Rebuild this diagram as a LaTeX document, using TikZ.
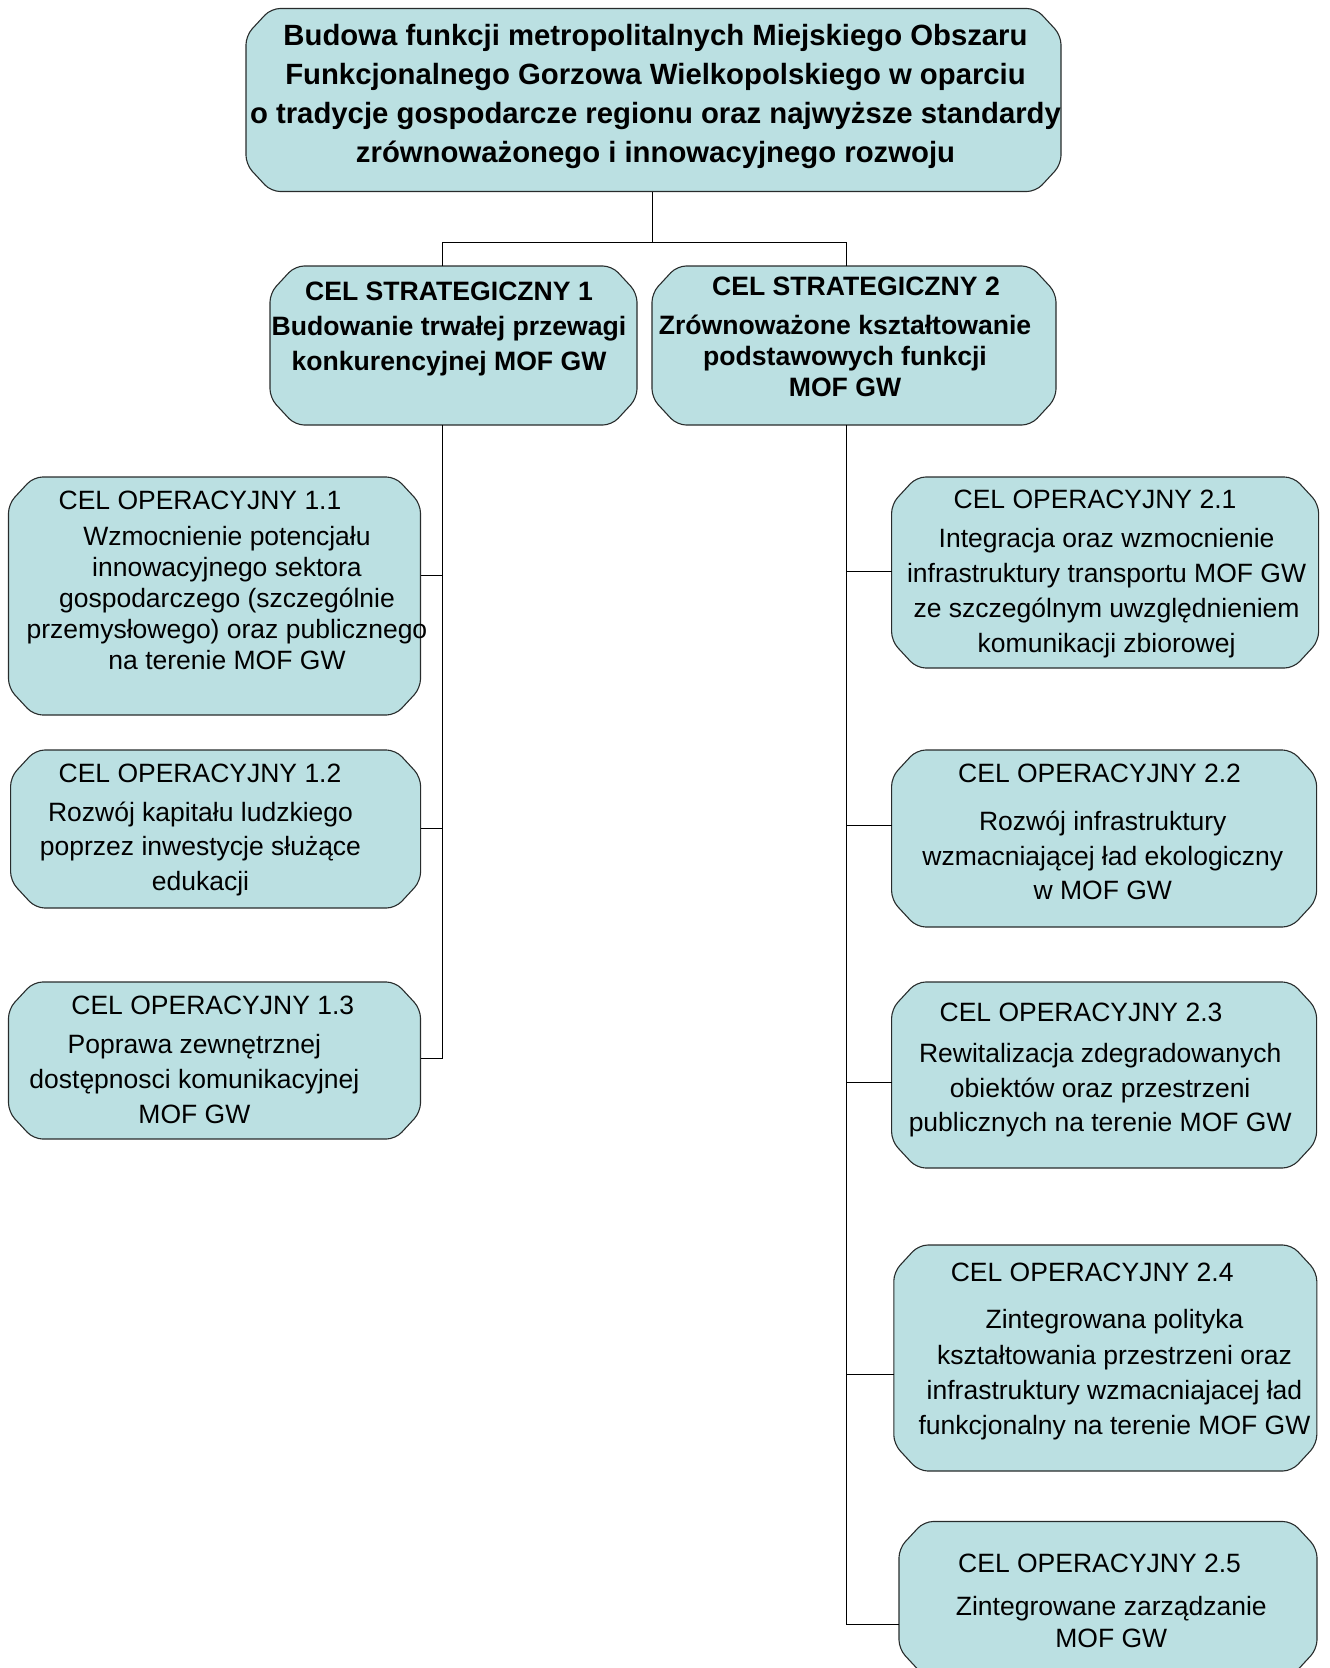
\documentclass[tikz,border=0pt]{standalone}
\usepackage{fontspec}
\setmainfont{Liberation Sans}
\definecolor{boxfill}{RGB}{187,224,226}
\definecolor{boxline}{RGB}{40,44,44}
% box with chamfered corners: name, x1, y1, x2, y2
\newcommand\chbox[5]{%
  \path[boxshape] ({#2+25},#3) -- ({#4-25},#3) -- (#4,{#3+27}) -- (#4,{#5-27})
    -- ({#4-25},#5) -- ({#2+25},#5) -- (#2,{#5-27}) -- (#2,{#3+27}) -- cycle;
  \node[anchor=north west,inner sep=0pt,minimum width={#4-#2},minimum height={#5-#3}] (#1) at (#2,#3) {};}
\begin{document}
\begin{tikzpicture}[x=1pt,y=-1pt,
  boxshape/.style={draw=boxline,line width=1.1pt,fill=boxfill,rounded corners=9pt},
  conn/.style={draw=black,line width=1pt},
  bigtxt/.style={inner sep=0pt,anchor=base,align=center,font=\fontsize{29.3}{38.8}\selectfont\bfseries},
  cstxt/.style={inner sep=0pt,anchor=base,align=center,font=\fontsize{26.6}{35}\selectfont\bfseries},
  optxt/.style={inner sep=0pt,anchor=base,align=center,font=\fontsize{26.5}{34.5}\selectfont}]
\useasboundingbox (0,0) rectangle (1330,1668);
% boxes
\chbox{top}{246}{8.5}{1061}{191.5}
\chbox{cs1}{270}{266}{637}{425}
\chbox{cs2}{652}{266}{1056}{425}
\chbox{o11}{8.5}{477}{420.5}{715}
\chbox{o12}{10.6}{750}{420.6}{908}
\chbox{o13}{8.5}{982}{420.5}{1139}
\chbox{o21}{891.6}{477}{1318.6}{668}
\chbox{o22}{891.6}{750}{1316.6}{927}
\chbox{o23}{891.6}{982}{1316.6}{1168}
\chbox{o24}{893.8}{1245}{1316.8}{1471}
\chbox{o25}{899}{1521.5}{1317}{1676}
% texts (anchor base = baseline of the last line)
\node[bigtxt] (ttop) at (655.5,162) {Budowa funkcji metropolitalnych Miejskiego Obszaru\\Funkcjonalnego Gorzowa Wielkopolskiego w oparciu\\o tradycje gospodarcze regionu oraz najwyższe standardy\\zrównoważonego i innowacyjnego rozwoju};
\node[cstxt] (tcs1) at (449,370) {CEL STRATEGICZNY 1\\Budowanie trwałej przewagi\\konkurencyjnej MOF GW};
\node[cstxt] (hcs2) at (856,295) {CEL STRATEGICZNY 2};
\node[cstxt,font=\fontsize{26.6}{31}\selectfont\bfseries] (tcs2) at (845,396.3) {Zrównoważone kształtowanie\\podstawowych funkcji\\MOF GW};
\node[optxt] (h11) at (200,509) {CEL OPERACYJNY 1.1};
\node[optxt,font=\fontsize{26.5}{31}\selectfont] (t11) at (227,669) {Wzmocnienie potencjału\\innowacyjnego sektora\\gospodarczego (szczególnie\\przemysłowego) oraz publicznego\\na terenie MOF GW};
\node[optxt] (h12) at (200,782.5) {CEL OPERACYJNY 1.2};
\node[optxt] (t12) at (200.5,890) {Rozwój kapitału ludzkiego\\poprzez inwestycje służące\\edukacji};
\node[optxt] (h13) at (212.8,1014.5) {CEL OPERACYJNY 1.3};
\node[optxt,font=\fontsize{26.5}{35}\selectfont] (t13) at (194.4,1123) {Poprawa zewnętrznej\\dostępnosci komunikacyjnej\\MOF GW};
\node[optxt] (h21) at (1095,508) {CEL OPERACYJNY 2.1};
\node[optxt,font=\fontsize{26.5}{35}\selectfont] (t21) at (1106.6,652) {Integracja oraz wzmocnienie\\infrastruktury transportu MOF GW\\ze szczególnym uwzględnieniem\\komunikacji zbiorowej};
\node[optxt] (h22) at (1099.6,782.5) {CEL OPERACYJNY 2.2};
\node[optxt] (t22) at (1102.8,899.6) {Rozwój infrastruktury\\wzmacniającej ład ekologiczny\\w MOF GW};
\node[optxt] (h23) at (1081,1021) {CEL OPERACYJNY 2.3};
\node[optxt] (t23) at (1100.2,1131.5) {Rewitalizacja zdegradowanych\\obiektów oraz przestrzeni\\publicznych na terenie MOF GW};
\node[optxt] (h24) at (1092.2,1281.5) {CEL OPERACYJNY 2.4};
\node[optxt,font=\fontsize{26.5}{35.3}\selectfont] (t24) at (1114.5,1434.8) {Zintegrowana polityka\\kształtowania przestrzeni oraz\\infrastruktury wzmacniajacej ład\\funkcjonalny na terenie MOF GW};
\node[optxt] (h25) at (1099.6,1572) {CEL OPERACYJNY 2.5};
\node[optxt,font=\fontsize{26.5}{32}\selectfont] (t25) at (1111.3,1647.6) {Zintegrowane zarządzanie\\MOF GW};
% connectors
\coordinate (jt) at (652,242.6);
\coordinate (l1) at (442.6,575.6);
\coordinate (l3) at (442.6,1058.7);
\coordinate (r5) at (846,1624.7);
\draw[conn] (top.south -| jt) -- (jt);
\draw[conn] (jt) -| (l1 |- cs1.north);
\draw[conn] (jt) -| (r5 |- cs2.north);
\draw[conn] (l1 |- cs1.south) -- (l3);
\draw[conn] (l1) -- (l1 -| o11.east);
\draw[conn] (o12.east |- 0,828.9) -- (442.6,828.9);
\draw[conn] (l3) -- (l3 -| o13.east);
\draw[conn] (r5 |- cs2.south) -- (r5) -- (r5 -| o25.west);
\draw[conn] (846,571.4) -- (o21.west |- 0,571.4);
\draw[conn] (846,825.7) -- (o22.west |- 0,825.7);
\draw[conn] (846,1082) -- (o23.west |- 0,1082);
\draw[conn] (846,1374.7) -- (o24.west |- 0,1374.7);
\end{tikzpicture}
\end{document}
